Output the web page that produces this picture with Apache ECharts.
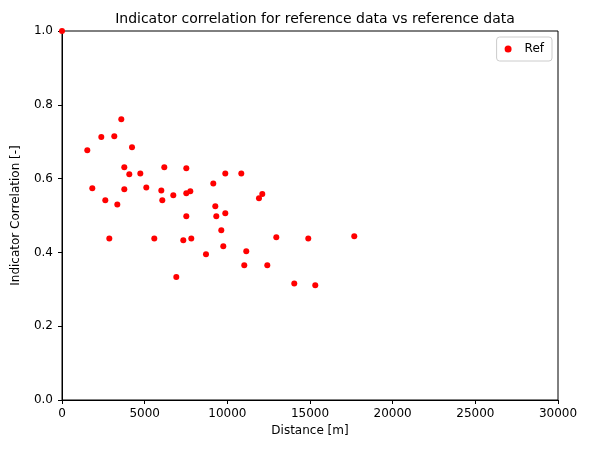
<!DOCTYPE html>
<html>
<head>
<meta charset="utf-8">
<script src="https://cdn.jsdelivr.net/npm/echarts@6/dist/echarts.min.js"></script>
<style>html,body{margin:0;padding:0;background:#fff}#chart{width:590px;height:454px}</style>
</head>
<body>
<div id="chart"></div>
<script>
// distance [m] and indicator correlation [-]
const distances = [0, 1530, 2377, 3163, 3586, 4234, 1833, 2619, 3345, 3768, 4070, 3768, 4736, 2861, 5098,
  6187, 6006, 6066, 6731, 5582, 7518, 7518, 7760, 7518, 7336, 7820, 6913, 8709, 9151, 9272, 9332,
  9876, 9876, 9634, 9755, 10844, 11146, 11025, 11914, 12114, 12961, 14896, 17678, 12417, 14049, 15319];
const correlations = [1.0, 0.677, 0.713, 0.715, 0.761, 0.685, 0.574, 0.541, 0.530, 0.631, 0.612, 0.571, 0.614, 0.438, 0.576,
  0.631, 0.568, 0.541, 0.555, 0.438, 0.628, 0.560, 0.566, 0.498, 0.433, 0.438, 0.333, 0.395, 0.587, 0.525, 0.498,
  0.614, 0.506, 0.460, 0.417, 0.614, 0.403, 0.365, 0.547, 0.558, 0.441, 0.438, 0.444, 0.365, 0.316, 0.311];

const chart = echarts.init(document.getElementById('chart'), undefined, { renderer: 'canvas' });
const font = 'DejaVu Sans';
const axisCommon = {
  axisLine: { show: true, onZero: false, lineStyle: { color: '#000' } },
  axisTick: { show: true, length: 4, lineStyle: { color: '#000' } },
  splitLine: { show: false },
  nameLocation: 'middle',
  nameTextStyle: { color: '#000', fontFamily: font, fontSize: 12 }
};
chart.setOption({
  animation: false,
  title: {
    text: 'Indicator correlation for reference data vs reference data',
    left: 310, top: 7, textAlign: 'center',
    textStyle: { fontFamily: font, fontSize: 14, fontWeight: 'normal', color: '#000' }
  },
  legend: {
    data: [{ name: 'Ref', icon: 'circle' }], right: 38, top: 37, orient: 'vertical',
    borderColor: '#ccc', borderWidth: 1, borderRadius: 3, padding: [6, 8],
    itemWidth: 7, itemHeight: 7, itemGap: 10,
    textStyle: { fontFamily: font, fontSize: 12, color: '#000', padding: [0, 0, 0, 8] }
  },
  grid: { left: 62, right: 32, top: 31, bottom: 54, show: true, borderColor: '#000', borderWidth: 1 },
  xAxis: Object.assign({}, axisCommon, {
    type: 'value', min: 0, max: 30000, interval: 5000, name: 'Distance [m]', nameGap: 24,
    axisLabel: { color: '#000', fontFamily: font, fontSize: 12, formatter: v => String(v) }
  }),
  yAxis: Object.assign({}, axisCommon, {
    type: 'value', min: 0, max: 1, interval: 0.2, name: 'Indicator Correlation [-]', nameGap: 40,
    axisLabel: { color: '#000', fontFamily: font, fontSize: 12, margin: 9, formatter: v => v.toFixed(1) }
  }),
  series: [{
    name: 'Ref', type: 'scatter', symbolSize: 6, clip: true,
    itemStyle: { color: '#ff0000', opacity: 1 },
    data: distances.map((d, i) => [d, correlations[i]])
  }]
});
</script>
</body>
</html>
